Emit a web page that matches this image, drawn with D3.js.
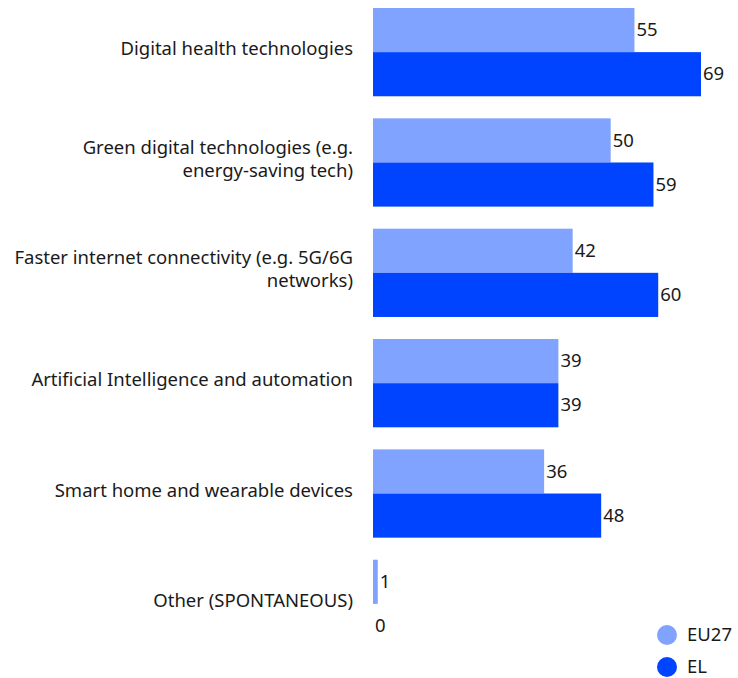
<!DOCTYPE html>
<html><head><meta charset="utf-8">
<script src="https://cdn.jsdelivr.net/npm/d3@7"></script>
<style>body{margin:0;background:#fff}text{font-family:"Noto Sans",sans-serif;fill:#1a1a1a}</style>
</head><body><svg id="c" width="738" height="678"></svg>
<script>
const categories = [
  ["Digital health technologies"],
  ["Green digital technologies (e.g.", "energy-saving tech)"],
  ["Faster internet connectivity (e.g. 5G/6G", "networks)"],
  ["Artificial Intelligence and automation"],
  ["Smart home and wearable devices"],
  ["Other (SPONTANEOUS)"]
];
const seriesNames = ["EU27", "EL"];
const eu27 = [55, 50, 42, 39, 36, 1];
const el = [69, 59, 60, 39, 48, 0];
const colors = ["#80A3FF", "#0044FF"];

const svg = d3.select("#c");
const x = d3.scaleLinear().domain([0, 69]).range([373, 701]);
const y = d3.scaleBand().domain(d3.range(categories.length)).range([8, 648]).paddingInner(0.2).paddingOuter(0);
const sub = d3.scaleBand().domain(seriesNames).range([0, y.bandwidth()]);
const series = [eu27, el];

const g = svg.selectAll("g.cat").data(categories).enter().append("g")
  .attr("transform", (d, i) => `translate(0,${y(i)})`);

seriesNames.forEach((s, si) => {
  g.append("rect")
    .attr("x", x(0))
    .attr("y", sub(s))
    .attr("width", (d, i) => x(series[si][i]) - x(0))
    .attr("height", sub.bandwidth())
    .attr("fill", colors[si]);
  g.append("text")
    .attr("x", (d, i) => x(series[si][i]) + 2)
    .attr("y", sub(s) + sub.bandwidth() / 2)
    .attr("dy", "0.33em")
    .attr("font-size", 18.5)
    .text((d, i) => series[si][i]);
});

g.each(function(lines) {
  const t = d3.select(this).append("text")
    .attr("text-anchor", "end")
    .attr("font-size", 18.5);
  const n = lines.length;
  lines.forEach((ln, k) => {
    t.append("tspan").attr("x", 353)
      .attr("y", y.bandwidth() / 2 - 3 + (k - (n - 1) / 2) * 23)
      .attr("dy", "0.33em").text(ln);
  });
});

const leg = svg.append("g");
seriesNames.forEach((s, i) => {
  leg.append("circle").attr("cx", 667).attr("cy", 635 + i * 32).attr("r", 10).attr("fill", colors[i]);
  leg.append("text").attr("x", 687).attr("y", 635 + i * 32).attr("dy", "0.33em").attr("font-size", 18.5).text(s);
});
</script></body></html>
